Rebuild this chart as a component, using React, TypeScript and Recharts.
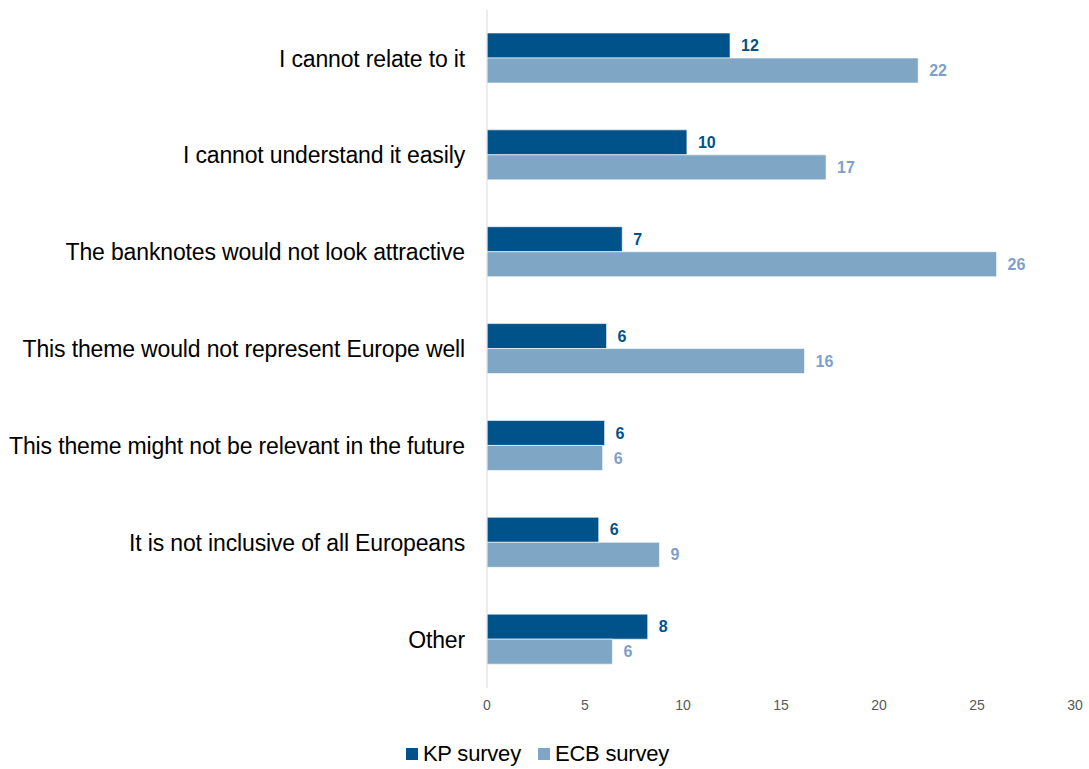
import React from 'react';
import { BarChart, Bar, XAxis, YAxis, LabelList, Legend } from 'recharts';

const categories = [
  'I cannot relate to it',
  'I cannot understand it easily',
  'The banknotes would not look attractive',
  'This theme would not represent Europe well',
  'This theme might not be relevant in the future',
  'It is not inclusive of all Europeans',
  'Other',
];

const kpSurvey = [12.4, 10.2, 6.9, 6.1, 6.0, 5.7, 8.2];
const ecbSurvey = [22.0, 17.3, 26.0, 16.2, 5.9, 8.8, 6.4];

const xTicks = [0, 5, 10, 15, 20, 25, 30];

const data = categories.map((name, i) => ({ name, kp: kpSurvey[i], ecb: ecbSurvey[i] }));

const KP_COLOR = '#00538a';
const ECB_COLOR = '#7fa7c5';
const FONT = '"Liberation Sans", Arial, sans-serif';

const legendItems = [
  { label: 'KP survey', color: KP_COLOR },
  { label: 'ECB survey', color: ECB_COLOR },
];

const LegendContent = () => (
  <div
    style={{
      height: 51,
      display: 'flex',
      justifyContent: 'center',
      alignItems: 'flex-end',
      paddingBottom: 3,
      boxSizing: 'border-box',
      gap: 17,
      fontFamily: FONT,
    }}
  >
    {legendItems.map((it) => (
      <div key={it.label} style={{ display: 'flex', alignItems: 'center', height: 24 }}>
        <span style={{ width: 12, height: 12, background: it.color, display: 'inline-block', marginRight: 5 }} />
        <span style={{ fontSize: 22, color: '#000', letterSpacing: -0.2, lineHeight: '24px' }}>{it.label}</span>
      </div>
    ))}
  </div>
);

const App: React.FC = () => {
  return (
    <div style={{ position: 'absolute', left: 0, top: 0, width: 1089, height: 769, background: '#fff' }}>
      <BarChart
        width={1089}
        height={769}
        data={data}
        layout="vertical"
        margin={{ top: 10, right: 14, left: 0, bottom: 0 }}
        barGap={0}
        barSize={25}
      >
        <XAxis
          type="number"
          domain={[0, 30]}
          ticks={xTicks}
          axisLine={false}
          tickLine={false}
          tickMargin={6}
          height={30}
          tick={{ fill: '#595959', fontSize: 14, fontFamily: FONT }}
        />
        <YAxis
          type="category"
          dataKey="name"
          width={487}
          tickLine={false}
          tickMargin={16}
          axisLine={{ stroke: '#d9d9d9' }}
          tick={{ fill: '#000', fontSize: 23, fontFamily: FONT, letterSpacing: -0.15 }}
        />
        <Legend verticalAlign="bottom" height={51} content={<LegendContent />} />
        <Bar dataKey="kp" name="KP survey" fill={KP_COLOR} stroke="#fff" strokeWidth={0.6} isAnimationActive={false}>
          <LabelList
            dataKey="kp"
            position="right"
            offset={11}
            formatter={(v: number) => Math.round(v)}
            style={{ fill: KP_COLOR, fontSize: 16, fontWeight: 'bold', fontFamily: FONT }}
          />
        </Bar>
        <Bar dataKey="ecb" name="ECB survey" fill={ECB_COLOR} stroke="#fff" strokeWidth={0.6} isAnimationActive={false}>
          <LabelList
            dataKey="ecb"
            position="right"
            offset={11}
            formatter={(v: number) => Math.round(v)}
            style={{ fill: '#7f9fcb', fontSize: 16, fontWeight: 'bold', fontFamily: FONT }}
          />
        </Bar>
      </BarChart>
    </div>
  );
};

export default App;
